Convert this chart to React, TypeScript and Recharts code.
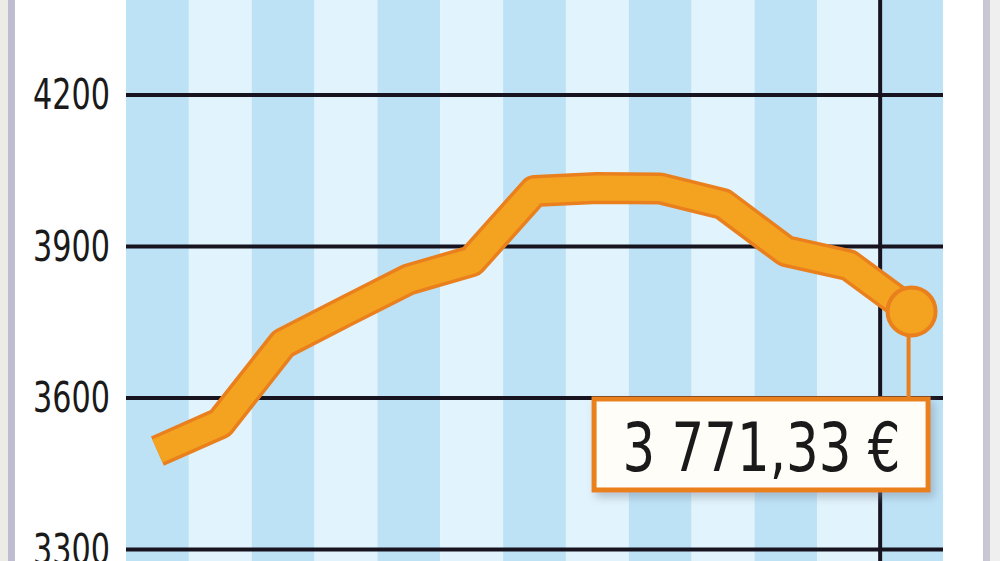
import { LineChart, Line, XAxis, YAxis, ReferenceArea, ReferenceLine, ReferenceDot } from "recharts";

// monthly index values, one per stripe
const periods = [0, 1, 2, 3, 4, 5, 6, 7, 8, 9, 10, 11, 12];
const values = [3495, 3550, 3708, 3772, 3835, 3871, 4010, 4016, 4015, 3984, 3891, 3863, 3771.33];
const yTicks = [3300, 3600, 3900, 4200];
const yearBreak = 11.5;
const lastLabel = "3 771,33 €";

const STRIPE_DARK = "#bde2f6";
const STRIPE_LIGHT = "#e1f3fc";
const ORANGE = "#f4a321";
const ORANGE_EDGE = "#e9801d";
const INK = "#171420";
const FONT = "'DejaVu Sans Condensed', 'DejaVu Sans', sans-serif";

const chartData = periods.map((p, i) => ({ p, v: values[i] }));

function YTick({ x, y, payload }: any) {
  return (
    <text
      x={x}
      y={y}
      dy="0.34em"
      textAnchor="end"
      fontFamily={FONT}
      fontSize={42}
      fill="#1a1a1a"
      textLength={77}
      lengthAdjust="spacingAndGlyphs"
    >
      {payload.value}
    </text>
  );
}

function EndMarker({ cx, cy }: { cx?: number; cy?: number }) {
  if (cx === undefined || cy === undefined) return null;
  return (
    <g>
      <defs>
        <filter id="boxShadow" x="-10%" y="-20%" width="130%" height="160%">
          <feDropShadow dx="4" dy="5" stdDeviation="4" floodColor="#7a8a99" floodOpacity="0.45" />
        </filter>
      </defs>
      <line x1={cx - 3} y1={cy} x2={cx - 3} y2={cy + 87} stroke={ORANGE_EDGE} strokeWidth={4} />
      <circle cx={cx} cy={cy} r={24} fill={ORANGE} stroke={ORANGE_EDGE} strokeWidth={4} />
      <rect
        x={cx - 317.5}
        y={cy + 87.5}
        width={334}
        height={91}
        fill="#fffdf8"
        stroke={ORANGE_EDGE}
        strokeWidth={5}
        filter="url(#boxShadow)"
      />
      <text
        x={cx - 289}
        y={cy + 160}
        fontFamily={FONT}
        fontSize={68}
        fill="#1a1a1a"
        textLength={278}
        lengthAdjust="spacingAndGlyphs"
      >
        {lastLabel}
      </text>
    </g>
  );
}

export default function App() {
  return (
    <div style={{ position: "absolute", left: 0, top: 0, width: 1000, height: 561, overflow: "hidden", background: "#ffffff" }}>
      {/* page frame */}
      <div style={{ position: "absolute", left: 0, top: 0, width: 8, height: 561, background: "#ecebe6" }} />
      <div style={{ position: "absolute", left: 8, top: 0, width: 7, height: 561, background: "#bebcd0" }} />
      <div style={{ position: "absolute", left: 983, top: 0, width: 7, height: 561, background: "#c9c8d2" }} />
      <div style={{ position: "absolute", left: 990, top: 0, width: 10, height: 561, background: "#efefef" }} />

      <div style={{ position: "absolute", left: 0, top: -6 }}>
        <LineChart width={1000} height={606} data={chartData} margin={{ top: 0, right: 57, bottom: 0, left: 0 }}>
          <XAxis dataKey="p" type="number" domain={[-0.5, 12.5]} hide />
          <YAxis
            type="number"
            domain={[3200, 4400]}
            ticks={yTicks}
            width={126}
            axisLine={false}
            tickLine={false}
            tickSize={0}
            tickMargin={16}
            tick={<YTick />}
          />
          {periods.map((p, i) => (
            <ReferenceArea
              key={p}
              x1={p - 0.5}
              x2={p + 0.5}
              fill={i % 2 === 0 ? STRIPE_DARK : STRIPE_LIGHT}
              fillOpacity={1}
              stroke="none"
              ifOverflow="visible"
            />
          ))}
          {yTicks.map((t) => (
            <ReferenceLine key={t} y={t} stroke={INK} strokeWidth={4} />
          ))}
          <ReferenceLine x={yearBreak} stroke={INK} strokeWidth={4} />
          <Line
            dataKey="v"
            type="linear"
            stroke={ORANGE_EDGE}
            strokeWidth={32}
            strokeLinejoin="round"
            strokeLinecap="butt"
            dot={false}
            activeDot={false}
            isAnimationActive={false}
          />
          <Line
            dataKey="v"
            type="linear"
            stroke={ORANGE}
            strokeWidth={25}
            strokeLinejoin="round"
            strokeLinecap="butt"
            dot={false}
            activeDot={false}
            isAnimationActive={false}
          />
          <ReferenceDot
            x={periods[periods.length - 1]}
            y={values[values.length - 1]}
            r={24}
            ifOverflow="visible"
            shape={(props: any) => <EndMarker cx={props.cx} cy={props.cy} />}
          />
        </LineChart>
      </div>
    </div>
  );
}
